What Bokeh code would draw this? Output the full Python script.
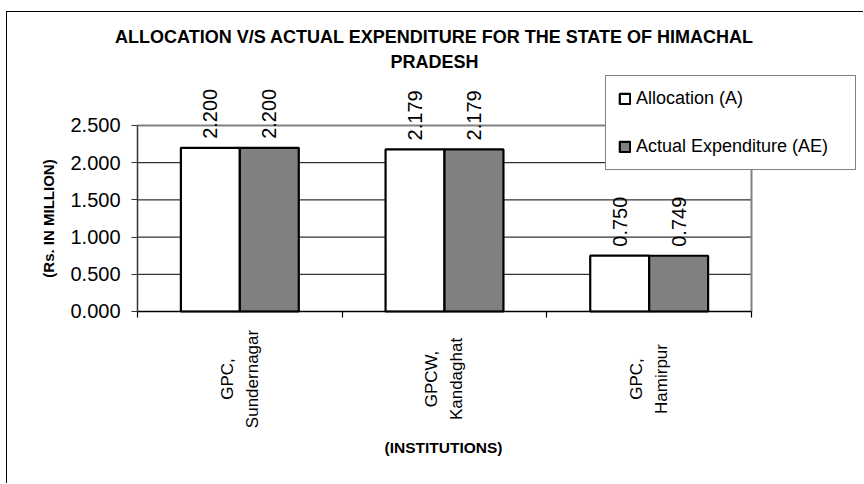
import math
from bokeh.plotting import figure
from bokeh.models import (ColumnDataSource, Range1d, LinearAxis, FixedTicker,
                          NumeralTickFormatter, LabelSet, Label, Legend, LegendItem)
from bokeh.transform import dodge
from bokeh.core.properties import value
from bokeh.embed import file_html
from bokeh.resources import INLINE

# ---- data ----
institutions = ["GPC, Sundernagar", "GPCW, Kandaghat", "GPC, Hamirpur"]
label_line1 = ["GPC,", "GPCW,", "GPC,"]
label_line2 = ["Sundernagar", "Kandaghat", "Hamirpur"]
allocation = [2.200, 2.179, 0.750]
expenditure = [2.200, 2.179, 0.749]
series_names = ["Allocation (A)", "Actual Expenditure (AE)"]
y_ticks = [0.0, 0.5, 1.0, 1.5, 2.0, 2.5]
title_lines = ["ALLOCATION V/S ACTUAL EXPENDITURE FOR THE STATE OF HIMACHAL", "PRADESH"]
y_title = "(Rs. IN MILLION)"
x_title = "(INSTITUTIONS)"

FONT = "Liberation Sans"
BAR_W = 0.288
OFF = BAR_W / 2
n = len(institutions)
y_top = y_ticks[-1]

src = ColumnDataSource(dict(
    cat=institutions,
    xc=[i + 0.5 for i in range(n)],   # category slot centres
    l1=label_line1,
    l2=label_line2,
    a=allocation,
    ae=expenditure,
    a_txt=[f"{v:.3f}" for v in allocation],
    ae_txt=[f"{v:.3f}" for v in expenditure],
))

# frame spans the whole canvas; the plot area (0..n, 0..2.5) sits inside it
p = figure(x_range=Range1d(-0.6352, 3.5521), y_range=Range1d(-2.3253, 4.0188),
           width=857, height=472, output_backend="svg", toolbar_location=None,
           x_axis_location=None, y_axis_location=None, min_border=0,
           min_border_left=0, min_border_right=0, min_border_top=0, min_border_bottom=0)
p.styles = {"margin-left": "6px", "margin-top": "11px", "margin-bottom": "-20px",
            "border-left": "1px solid #000000", "border-top": "1px solid #000000"}
p.outline_line_color = None
p.xgrid.visible = False
p.ygrid.visible = False
p.background_fill_color = "white"
p.border_fill_color = "white"

# gridlines and plot-area border
p.segment(x0=0, x1=n, y0=y_ticks[1:-1], y1=y_ticks[1:-1], line_color="black", line_width=1)
p.segment(x0=0, x1=n, y0=y_top, y1=y_top, line_color="#808080", line_width=2)
p.segment(x0=n, x1=n, y0=0, y1=y_top, line_color="#808080", line_width=2)

# x axis with separator ticks between categories
xaxis = LinearAxis(fixed_location=0, bounds=(0, n), ticker=FixedTicker(ticks=list(range(n + 1))),
                   major_label_text_font_size="0px", major_label_text_color=None,
                   major_tick_out=6, major_tick_in=0, minor_tick_line_color=None,
                   axis_line_color="black", axis_line_width=1.5,
                   major_tick_line_color="black", major_tick_line_width=1.2)
p.add_layout(xaxis, "below")

yaxis = LinearAxis(fixed_location=0, bounds=(0, y_top), ticker=FixedTicker(ticks=y_ticks),
                   formatter=NumeralTickFormatter(format="0.000"),
                   axis_label=y_title, axis_label_text_font=FONT, axis_label_text_font_style="bold",
                   axis_label_text_font_size="15px", axis_label_standoff=10,
                   axis_label_text_color="black",
                   major_label_text_font=FONT, major_label_text_font_size="20px",
                   major_label_text_color="black", major_label_standoff=11,
                   major_tick_out=6, major_tick_in=0, minor_tick_line_color=None,
                   axis_line_color="#333333", axis_line_width=1.5, major_tick_line_color="#333333")
p.add_layout(yaxis, "left")

r1 = p.vbar(x=dodge("xc", -OFF), top="a", width=BAR_W, source=src,
            fill_color="white", line_color="black", line_width=2.2)
r2 = p.vbar(x=dodge("xc", OFF), top="ae", width=BAR_W, source=src,
            fill_color="#808080", line_color="black", line_width=2.2)

for col, txt, off in (("a", "a_txt", -OFF), ("ae", "ae_txt", OFF)):
    p.add_layout(LabelSet(x=dodge("xc", off), y=col, text=txt, source=src,
                          angle=math.pi / 2, text_align="left", text_baseline="middle",
                          y_offset=9, text_font=value(FONT), text_font_size="20px",
                          text_color="black"))

# category labels (vertical, two centred lines)
for col, xo in (("l1", -12.5), ("l2", 12.5)):
    p.add_layout(LabelSet(x="xc", y=-0.907, text=col, source=src, angle=math.pi / 2,
                          x_offset=xo, text_align="center", text_baseline="middle",
                          text_font=value(FONT), text_font_size="17px", text_color="black"))

# x axis title
p.add_layout(Label(x=1.4951, y=-1.828, text=x_title, text_align="center",
                   text_baseline="middle", text_font=FONT, text_font_style="bold",
                   text_font_size="15.5px", text_color="black"))

# main title (two lines)
for line, ty in zip(title_lines, (3.6828, 3.3468)):
    p.add_layout(Label(x=1.4511, y=ty, text=line, text_align="center", text_baseline="middle",
                       text_font=FONT, text_font_style="bold", text_font_size="18px",
                       text_color="black"))

legend = Legend(items=[LegendItem(label=series_names[0], renderers=[r1]),
                       LegendItem(label=series_names[1], renderers=[r2])],
                location=(598, 314), margin=0, padding=12, spacing=27,
                label_height=20, glyph_height=13, glyph_width=13, label_standoff=5,
                label_width=207, label_text_font=FONT, label_text_font_size="18px",
                label_text_color="black", border_line_color="black", border_line_width=1,
                background_fill_color="white", background_fill_alpha=1.0)
p.add_layout(legend)

open("out.html", "w").write(file_html(p, INLINE))
